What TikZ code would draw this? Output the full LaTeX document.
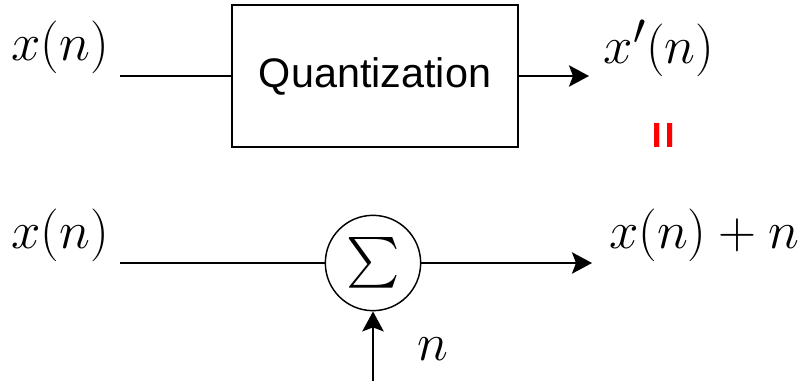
\documentclass[tikz,border=0pt]{standalone}
\usepackage{graphicx}
\usepackage{fontspec}
\newfontfamily\qsans{Liberation Sans}
\usetikzlibrary{arrows.meta}
\newcommand\mymath[2]{\scalebox{#1}{\Huge$#2$}}
\begin{document}
\begin{tikzpicture}[x=0.75pt,y=-0.75pt,
  lbl/.style={inner sep=0pt},
  blockbox/.style={draw,line width=1.5pt,minimum width=214.5pt,minimum height=107pt,inner sep=0pt,
     font=\qsans\fontsize{31}{36}\selectfont},
  sumnode/.style={draw,circle,line width=1.1pt,minimum size=71.5pt,inner sep=0pt},
  wire/.style={line width=1.5pt},
  sig/.style={line width=1.5pt,-{Stealth[length=15pt,width=16pt,inset=3pt]}},
  eqmark/.style={rotate=90,inner sep=0pt,text=red,font=\qsans\bfseries\fontsize{36}{38}\selectfont}
]
\useasboundingbox (0,0) rectangle (804,381);
% top row
\node[lbl] (xin1) at (60,47) {\mymath{1.59}{x(n)}};
\node[blockbox] (quant) at (375,76) {Quantization};
\coordinate (in1) at (120,76);
\coordinate (out1) at (589,76);
\draw[wire] (in1) -- (quant.west);
\draw[sig] (quant.east) -- (out1);
\node[lbl] (xout1) at (659,48) {\mymath{1.59}{x'(n)}};
\node[eqmark] (eq) at (667,135) {=};
% bottom row
\node[lbl] (xin2) at (60,235) {\mymath{1.59}{x(n)}};
\node[sumnode] (sum) at (373,263) {\scalebox{3.8}{$\sum$}};
\coordinate (in2) at (120,263);
\coordinate (out2) at (592,263);
\coordinate (noise) at (373,381);
\draw[wire] (in2) -- (sum.west);
\draw[sig] (sum.east) -- (out2);
\draw[sig] (noise) -- (sum.south);
\node[lbl] (xout2) at (704,235) {\mymath{1.59}{x(n)+n}};
\node[lbl] (nlbl) at (433,349) {\mymath{1.59}{n}};
\end{tikzpicture}
\end{document}
